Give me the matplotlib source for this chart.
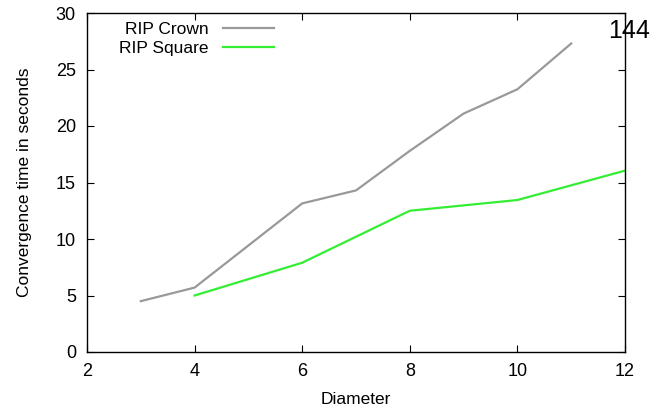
import matplotlib.pyplot as plt

plt.rcParams['font.family'] = ['Liberation Sans', 'DejaVu Sans']

# convergence times per network diameter
crown_diam = [3, 4, 6, 7, 8, 9, 10, 11]
crown_time = [4.5, 5.7, 13.15, 14.3, 17.8, 21.1, 23.25, 27.3]
square_diam = [4, 6, 8, 10, 12]
square_time = [5.0, 7.9, 12.5, 13.45, 16.05]

fig = plt.figure(figsize=(6.66, 4.16), dpi=100)
ax = fig.add_axes([87/666, 64/416, 538/666, 339/416])

ax.plot(crown_diam, crown_time, color='#999999', lw=1.6, label='RIP Crown')
ax.plot(square_diam, square_time, color='#33ee33', lw=1.6, label='RIP Square')

ax.set_xlim(2, 12)
ax.set_ylim(0, 30)
ax.set_xticks(range(2, 13, 2))
ax.set_yticks(range(0, 31, 5))
ax.tick_params(direction='in', length=5, width=0.8, top=True, right=True,
               labelsize=13, pad=8)
for s in ax.spines.values():
    s.set_linewidth(1.0)

ax.set_xlabel('Diameter', fontsize=12.5, labelpad=8.5)
ax.set_ylabel('Convergence time in seconds', fontsize=12.5, labelpad=17)

ax.legend(loc='upper left', frameon=False, markerfirst=False, fontsize=12.5,
          handlelength=2.9, handletextpad=0.83, labelspacing=0.22,
          borderaxespad=0.1, bbox_to_anchor=(0.044, 1.0))

fig.text(608/666, 378/416, '144', fontsize=18, va='baseline', ha='left')

fig.savefig('out.png')
